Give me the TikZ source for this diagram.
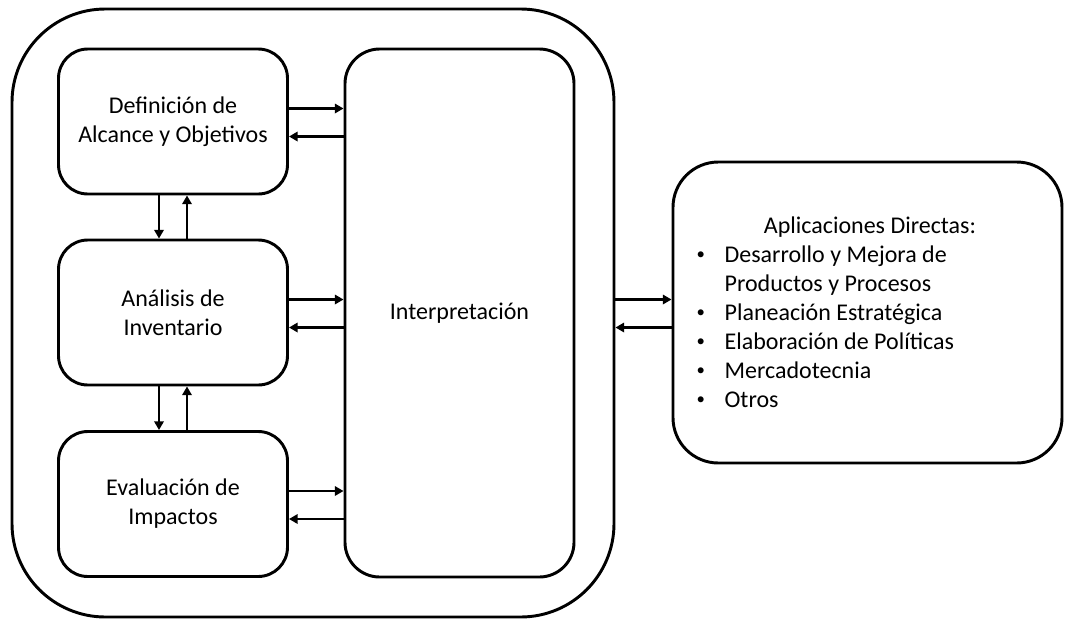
\documentclass[tikz,border=0pt]{standalone}
\usepackage{fontspec}
\setmainfont{Carlito}
\usetikzlibrary{positioning,calc,arrows.meta}

\newcommand{\appitem}{\makebox[22pt][l]{\hspace{1pt}\raisebox{1.6pt}{\scalebox{0.7}{\textbullet}}}}

\tikzset{
    stage/.style={draw, line width=2.2pt, rounded corners=22pt, minimum width=171.75pt, minimum height=108.75pt, align=center},
    flow/.style={line width=2pt, -{Triangle[length=6.5pt, width=7pt]}},
}

\begin{document}
\begin{tikzpicture}[x=0.75pt, y=-0.75pt, font=\fontsize{18pt}{21.75pt}\selectfont]
    \useasboundingbox (0,0) rectangle (1065,619);

    % outer frame and the four phases
    \node [draw, line width=2.2pt, rounded corners=70pt, minimum width=451.5pt, minimum height=456pt] (frame) at (313,313) {};
    \node [stage] (def) at (173,121.5) {Definición de\\Alcance y Objetivos};
    \node [stage] (ana) at (173,312.5) {Análisis de\\Inventario};
    \node [stage] (eva) at (173,504) {Evaluación de\\Impactos};
    \node [stage, rounded corners=26pt, minimum height=396pt] (interp) at (459.5,313) {Interpretación};

    % applications
    \node [draw, line width=2.2pt, rounded corners=34pt, minimum width=291.75pt, minimum height=225.75pt] (app) at (867.5,312.5) {};
    \node [anchor=base] (apptitle) at (870,233) {Aplicaciones Directas:};
    \node [anchor=base west, align=left, inner sep=0pt] (applist) at (695,407) {%
        \appitem Desarrollo y Mejora de\\
        \makebox[22pt][l]{}Productos y Procesos\\
        \appitem Planeación Estratégica\\
        \appitem Elaboración de Políticas\\
        \appitem Mercadotecnia\\
        \appitem Otros};

    % phases <-> interpretation
    \foreach \b in {def,ana,eva} {
        \path ($(\b.east)+(0,-13)$) coordinate (\b-out)
              ($(\b.east)+(0,15)$) coordinate (\b-in);
        \draw [flow] (\b-out) -- (\b-out -| interp.west);
        \draw [flow] (\b-in -| interp.west) -- (\b-in);
    }

    % phase to phase
    \path ($(def.south)+(-14,0)$) coordinate (d1)
          ($(def.south)+(14,0)$) coordinate (u1)
          ($(ana.south)+(-14,0)$) coordinate (d2)
          ($(ana.south)+(14,0)$) coordinate (u2);
    \draw [flow] (d1) -- (d1 |- ana.north);
    \draw [flow] (u1 |- ana.north) -- (u1);
    \draw [flow] (d2) -- (d2 |- eva.north);
    \draw [flow] (u2 |- eva.north) -- (u2);

    % frame <-> applications
    \path ($(app.west)+(0,-13)$) coordinate (a-in)
          ($(app.west)+(0,15)$) coordinate (a-out);
    \draw [flow] (a-in -| frame.east) -- (a-in);
    \draw [flow] (a-out) -- (a-out -| frame.east);
\end{tikzpicture}
\end{document}
